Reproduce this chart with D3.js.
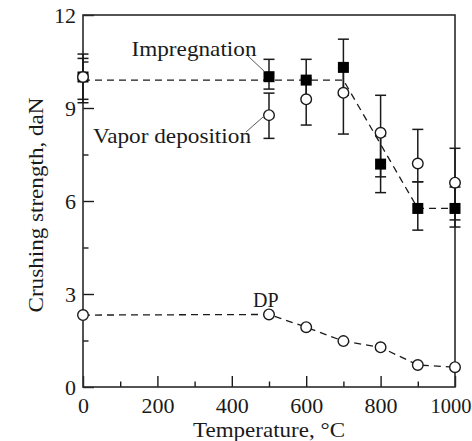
<!DOCTYPE html>
<html><head><meta charset="utf-8">
<script src="https://cdn.jsdelivr.net/npm/d3@7"></script>
<style>html,body{margin:0;padding:0;background:#fff;overflow:hidden}</style>
</head><body>
<svg id="chart" width="472" height="441"></svg>
<script>
const temps = [0, 500, 600, 700, 800, 900, 1000];
const impregnation = [10.0, 10.01, 9.9, 10.31, 7.19, 5.76, 5.76];
const impregLow = [9.28, 9.61, 9.3, 9.41, 6.27, 5.06, 5.16];
const impregHigh = [10.74, 10.57, 10.57, 11.22, 8.1, 6.62, 6.45];
const vapor = [10.0, 8.77, 9.28, 9.49, 8.2, 7.21, 6.59];
const vaporLow = [9.17, 8.02, 8.45, 8.16, 6.78, 6.62, 5.39];
const vaporHigh = [10.6, 9.48, 9.95, 10.3, 9.41, 8.31, 7.7];
const dp = [2.32, 2.34, 1.93, 1.48, 1.28, 0.71, 0.64];
const trendTemps = [0, 700, 900, 1000];
const trendValues = [9.9, 9.9, 5.76, 5.76];
const xTicks = [0, 200, 400, 600, 800, 1000];
const xMinorTicks = [100, 300, 500, 700, 900];
const yTicks = [0, 3, 6, 9, 12];
const yMinorTicks = [1.5, 4.5, 7.5, 10.5];

const svg = d3.select("#chart");
const font = '"Liberation Serif", "Times New Roman", serif';
const x = d3.scaleLinear().domain([0, 1000]).range([83, 455]);
const y = d3.scaleLinear().domain([0, 12]).range([387, 15]);
const ink = "#1a1a1a";

// axes
const xAxis = d3.axisBottom(x).tickValues(xTicks).tickSizeInner(-11).tickSizeOuter(0).tickFormat(d3.format("d"));
const gx = svg.append("g").attr("transform", "translate(0,387)").call(xAxis);
const xMinor = d3.axisBottom(x).tickValues(xMinorTicks).tickSizeInner(-5.5).tickSizeOuter(0).tickFormat("");
const gxm = svg.append("g").attr("transform", "translate(0,387)").call(xMinor);
const yAxis = d3.axisLeft(y).tickValues(yTicks).tickSizeInner(-11).tickSizeOuter(0).tickPadding(7).tickFormat(d3.format("d"));
const gy = svg.append("g").attr("transform", "translate(83,0)").call(yAxis);
const yMinor = d3.axisLeft(y).tickValues(yMinorTicks).tickSizeInner(-5.5).tickSizeOuter(0).tickFormat("");
const gym = svg.append("g").attr("transform", "translate(83,0)").call(yMinor);
[gx, gxm, gy, gym].forEach(g => {
  g.attr("font-family", null).attr("font-size", null);
  g.select(".domain").remove();
  g.selectAll(".tick line").attr("stroke", ink).attr("stroke-width", 1.4);
  g.selectAll(".tick text").style("font-family", font).style("font-size", "22px").attr("fill", ink);
});
gx.selectAll(".tick text").attr("dy", 0).attr("y", 25.5);
// keep the last label inside the window
gx.selectAll(".tick text").filter(d => d === 1000)
  .attr("x", -4.5).style("font-size", "20.5px");
gy.selectAll(".tick text").attr("dy", "0.34em");

// frame
svg.append("rect").attr("x", x(0)).attr("y", y(12)).attr("width", x(1000) - x(0)).attr("height", y(0) - y(12))
  .attr("fill", "none").attr("stroke", "#2a2a2a").attr("stroke-width", 1.6);

// axis titles
svg.append("text").attr("transform", "translate(43,205) rotate(-90)").attr("text-anchor", "middle")
  .style("font-family", font).style("font-size", "22px").attr("fill", ink)
  .attr("textLength", 215).attr("lengthAdjust", "spacingAndGlyphs").text("Crushing strength, daN");
svg.append("text").attr("x", 269).attr("y", 437).attr("text-anchor", "middle")
  .style("font-family", font).style("font-size", "22px").attr("fill", ink)
  .attr("textLength", 152).attr("lengthAdjust", "spacingAndGlyphs").text("Temperature, °C");

// dashed lines
const line = d3.line().x(d => x(d[0])).y(d => y(d[1]));
svg.append("path").datum(trendTemps.map((t, i) => [t, trendValues[i]]))
  .attr("d", line).attr("fill", "none").attr("stroke", ink).attr("stroke-width", 1.3).attr("stroke-dasharray", "7,5");
svg.append("path").datum(temps.map((t, i) => [t, dp[i]]))
  .attr("d", line).attr("fill", "none").attr("stroke", ink).attr("stroke-width", 1.3).attr("stroke-dasharray", "7,5");

// error bars
function errorBars(lows, highs) {
  const g = svg.append("g").attr("stroke", ink).attr("stroke-width", 1.5);
  temps.forEach((t, i) => {
    const cx = x(t);
    g.append("line").attr("x1", cx).attr("x2", cx).attr("y1", y(lows[i])).attr("y2", y(highs[i]));
    g.append("line").attr("x1", cx - 5.5).attr("x2", cx + 5.5).attr("y1", y(lows[i])).attr("y2", y(lows[i]));
    g.append("line").attr("x1", cx - 5.5).attr("x2", cx + 5.5).attr("y1", y(highs[i])).attr("y2", y(highs[i]));
  });
}
errorBars(impregLow, impregHigh);
errorBars(vaporLow, vaporHigh);

// markers
svg.append("g").selectAll("rect").data(temps).join("rect")
  .attr("x", d => x(d) - 5.5).attr("y", (d, i) => y(impregnation[i]) - 5.5)
  .attr("width", 11).attr("height", 11).attr("fill", "#000");
svg.append("g").selectAll("circle").data(temps).join("circle")
  .attr("cx", d => x(d)).attr("cy", (d, i) => y(vapor[i])).attr("r", 5.3)
  .attr("fill", "#fff").attr("stroke", ink).attr("stroke-width", 1.4);
svg.append("g").selectAll("circle").data(temps).join("circle")
  .attr("cx", d => x(d)).attr("cy", (d, i) => y(dp[i])).attr("r", 5.3)
  .attr("fill", "#fff").attr("stroke", ink).attr("stroke-width", 1.4);

// labels and leaders
svg.append("text").attr("x", 131.5).attr("y", 56).style("font-family", font).style("font-size", "21px").attr("fill", ink)
  .attr("textLength", 125).attr("lengthAdjust", "spacingAndGlyphs").text("Impregnation");
svg.append("text").attr("x", 93).attr("y", 143).style("font-family", font).style("font-size", "21px").attr("fill", ink)
  .attr("textLength", 158).attr("lengthAdjust", "spacingAndGlyphs").text("Vapor deposition");
svg.append("text").attr("x", 253).attr("y", 306.5).style("font-family", font).style("font-size", "20px").attr("fill", ink)
  .text("DP");
svg.append("line").attr("x1", 248).attr("y1", 56).attr("x2", 265).attr("y2", 72)
  .attr("stroke", "#444").attr("stroke-width", 0.9);
svg.append("line").attr("x1", 246).attr("y1", 132).attr("x2", 263).attr("y2", 117)
  .attr("stroke", "#444").attr("stroke-width", 0.9);
</script>
</body></html>
